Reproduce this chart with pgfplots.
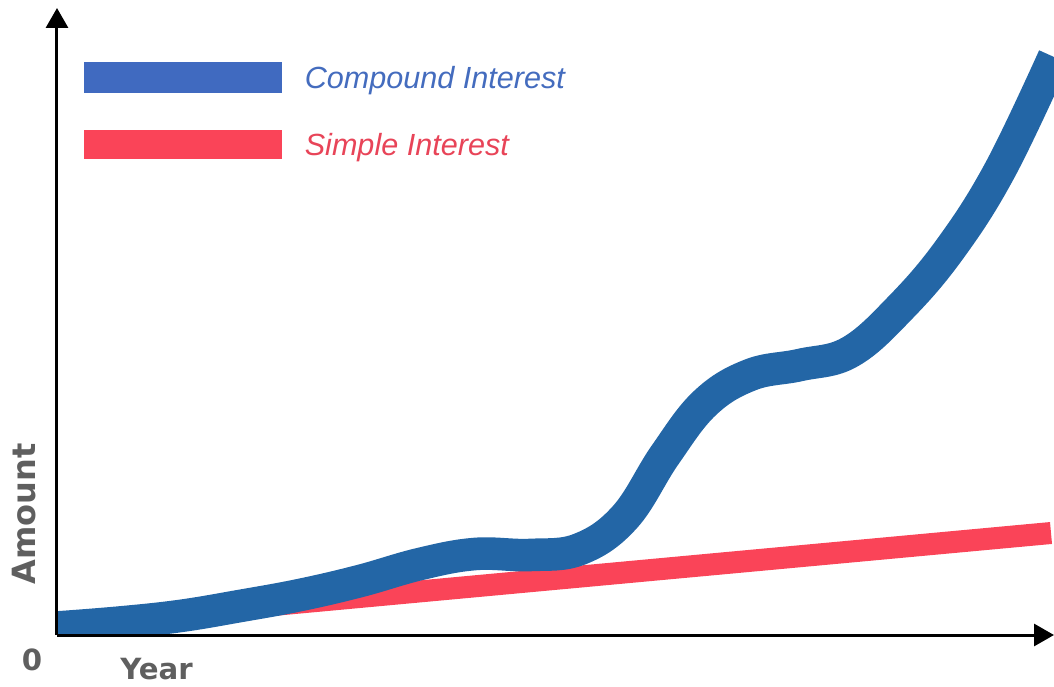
\documentclass[border=0pt]{standalone}
\usepackage{pgfplots}
\pgfplotsset{compat=1.18}
\usetikzlibrary{arrows.meta}
\usepackage{fontspec}
\setmainfont{Liberation Sans}
\newfontfamily\labelfont{DejaVu Sans}
\definecolor{cblue}{RGB}{35,102,166}
\definecolor{lblue}{RGB}{64,106,192}
\definecolor{cred}{RGB}{250,68,88}
\definecolor{tblue}{RGB}{68,108,190}
\definecolor{tred}{RGB}{232,68,88}
\definecolor{lgray}{RGB}{95,95,95}
\begin{document}
\begin{tikzpicture}
\begin{axis}[
  scale only axis, width=498.5pt, height=313.5pt,
  xmin=57, xmax=1054, ymin=0, ymax=627,
  axis lines=left, axis on top,
  x axis line style={line width=1.5pt, -{Triangle[width=11pt,length=10pt]}},
  y axis line style={line width=1.5pt, -{Triangle[width=11pt,length=10pt]}},
  xtick=\empty, ytick=\empty,
  clip mode=individual,
  legend cell align=left,
  legend style={draw=none, fill=none, inner sep=0pt, outer sep=0pt,
    at={(axis cs:84,573)}, anchor=north west,
    row sep=18.5pt, column sep=11.5pt,
    nodes={inner sep=0pt, text depth=0pt, anchor=west},
    font=\itshape\fontsize{15.3}{18}\selectfont},
]
\addplot[cred, line width=11pt, forget plot] coordinates {(57,10) (1051,102)};
\addplot[cblue, line width=16.3pt, smooth, tension=0.65, forget plot] coordinates {
(57,7.5) (120,12.5) (180,19) (240,29) (300,40) (360,54) (420,71) (475,81)
(530,80) (580,86) (625,118) (665,180) (705,232) (750,260) (800,270)
(850,283) (900,327) (950,386) (1000,465) (1054,578)};
\addlegendimage{legend image code/.code={\fill[lblue] (0pt,-7.5pt) rectangle (98.5pt,7.5pt);}}
\addlegendentry{\textcolor{tblue}{Compound Interest}}
\addlegendimage{legend image code/.code={\fill[cred] (0pt,-7pt) rectangle (98.5pt,7pt);}}
\addlegendentry{\textcolor{tred}{Simple Interest}}
\node[rotate=90, font=\labelfont\bfseries\fontsize{16}{16}\selectfont, text=lgray] at (axis cs:24,121) {Amount};
\node[anchor=base west, inner sep=0pt, font=\labelfont\bfseries\fontsize{14.6}{16}\selectfont, text=lgray] at (axis cs:120,-44) {Year};
\node[anchor=base, inner sep=0pt, font=\labelfont\bfseries\fontsize{14.6}{16}\selectfont, text=lgray] at (axis cs:32,-35) {0};
\coordinate (bbBL) at (axis cs:0,-51);
\coordinate (bbTR) at (axis cs:1054,635);
\end{axis}
\pgfresetboundingbox
\path (bbBL) rectangle (bbTR);
\end{tikzpicture}
\end{document}
